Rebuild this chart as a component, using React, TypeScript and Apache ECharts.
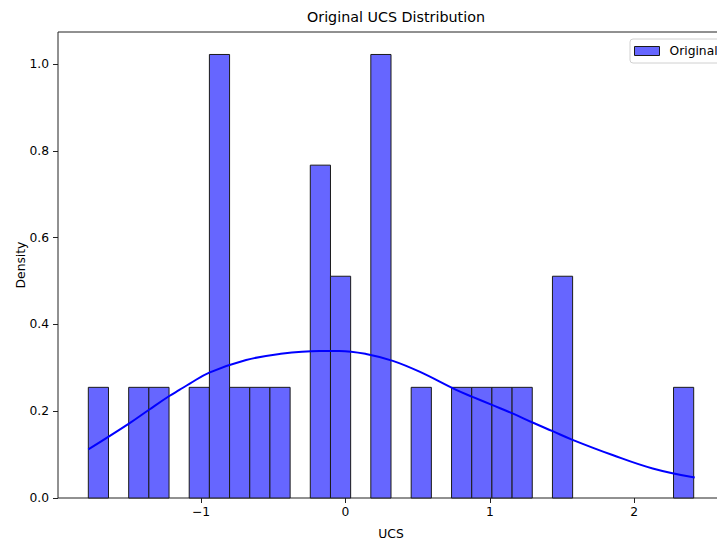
import React, { useEffect, useRef } from "react";
import * as echarts from "echarts";

// Histogram: 30 bins between the data min and max
const binStart = -1.781;
const binWidth = 0.13977;
const binDensities = [
  0.255, 0, 0.255, 0.255, 0, 0.255, 1.022, 0.255, 0.255, 0.255,
  0, 0.767, 0.511, 0, 1.022, 0, 0.255, 0, 0.255, 0.255,
  0.255, 0.255, 0, 0.511, 0, 0, 0, 0, 0, 0.255,
];

// KDE curve
const kdeX = [
  -1.781, -1.497, -1.358, -1.22, -1.15, -1.081, -0.943, -0.688, -0.457, -0.18,
  -0.042, 0.143, 0.328, 0.513, 0.767, 0.88, 1.019, 1.157, 1.296, 1.435,
  1.573, 1.85, 2.128, 2.419,
];
const kdeY = [
  0.112, 0.172, 0.204, 0.235, 0.249, 0.263, 0.289, 0.318, 0.332, 0.339,
  0.339, 0.332, 0.316, 0.291, 0.249, 0.233, 0.214, 0.195, 0.174, 0.154,
  0.134, 0.099, 0.068, 0.047,
];

const xTicks = [-1, 0, 1, 2];
const yTicks = [0, 0.2, 0.4, 0.6, 0.8, 1.0];

const FONT = "DejaVu Sans";

export default function App() {
  const ref = useRef<HTMLDivElement>(null);
  useEffect(() => {
    if (!ref.current) return;
    const chart = echarts.init(ref.current, null, { renderer: "svg" });
    const histData = binDensities
      .map((d, i) => [binStart + i * binWidth, binStart + (i + 1) * binWidth, d])
      .filter((r) => r[2] > 0);
    const kdeData = kdeX.map((x, i) => [x, kdeY[i]]);
    const fmt = (v: number, dec: number) =>
      v < 0 ? "\u2212" + Math.abs(v).toFixed(dec) : v.toFixed(dec);

    chart.setOption({
      animation: false,
      title: {
        text: "Original UCS Distribution",
        left: 391,
        textAlign: "center",
        top: 5,
        textStyle: { fontFamily: FONT, fontSize: 14.3, fontWeight: "normal", color: "#000" },
      },
      legend: {
        left: 630,
        top: 39,
        orient: "vertical",
        padding: [5, 12, 5, 4],
        itemWidth: 25,
        itemHeight: 9,
        backgroundColor: "#fff",
        borderColor: "#d0d0d0",
        borderWidth: 1,
        borderRadius: 3,
        textStyle: { fontFamily: FONT, fontSize: 12.3, color: "#000", padding: [0, 0, 0, 5], lineHeight: 14 },
        data: [
          {
            name: "Original",
            icon: "rect",
            itemStyle: { color: "#6666ff", borderColor: "#1a1a1a", borderWidth: 1 },
          },
        ],
      },
      grid: {
        left: 58,
        top: 32,
        right: -7,
        bottom: 47,
        show: true,
        borderColor: "#222",
        borderWidth: 1,
        backgroundColor: "transparent",
        containLabel: false,
        outerBoundsMode: "none",
      },
      xAxis: {
        type: "value",
        min: -1.991,
        max: 2.622,
        name: "UCS",
        nameLocation: "middle",
        nameGap: 30,
        nameMoveOverlap: false,
        nameTextStyle: { fontFamily: FONT, fontSize: 12.3, color: "#000" },
        axisLine: { show: false, onZero: false },
        splitLine: { show: false },
        axisTick: { show: true, length: 5, customValues: xTicks, lineStyle: { color: "#222" } },
        axisLabel: {
          customValues: xTicks,
          margin: 8,
          fontFamily: FONT,
          fontSize: 12.3,
          color: "#000",
          formatter: (v: number) => fmt(v, 0),
        },
      },
      yAxis: {
        type: "value",
        min: 0,
        max: 1.0738,
        name: "Density",
        nameLocation: "middle",
        nameGap: 31,
        nameMoveOverlap: false,
        nameTextStyle: { fontFamily: FONT, fontSize: 12.3, color: "#000" },
        axisLine: { show: false, onZero: false },
        splitLine: { show: false },
        axisTick: { show: true, length: 5, customValues: yTicks, lineStyle: { color: "#222" } },
        axisLabel: {
          customValues: yTicks,
          margin: 9,
          fontFamily: FONT,
          fontSize: 12.3,
          color: "#000",
          formatter: (v: number) => fmt(v, 1),
        },
      },
      series: [
        {
          name: "Original",
          type: "custom",
          data: histData,
          encode: { x: [0, 1], y: 2 },
          itemStyle: { color: "#6666ff" },
          renderItem: (params: any, api: any) => {
            const p0 = api.coord([api.value(0), api.value(2)]);
            const p1 = api.coord([api.value(1), 0]);
            return {
              type: "rect",
              shape: { x: p0[0], y: p0[1], width: p1[0] - p0[0], height: p1[1] - p0[1] },
              style: { fill: "#6666ff", stroke: "#1a1a1a", lineWidth: 1 },
            };
          },
          z: 2,
        },
        {
          name: "KDE",
          type: "line",
          data: kdeData,
          smooth: 0.4,
          showSymbol: false,
          lineStyle: { color: "#0000ff", width: 2 },
          itemStyle: { color: "#0000ff" },
          z: 3,
        },
      ],
    });
    return () => chart.dispose();
  }, []);
  return (
    <div
      ref={ref}
      style={{ position: "fixed", left: 0, top: 0, width: 717, height: 545, background: "#fff" }}
    />
  );
}
